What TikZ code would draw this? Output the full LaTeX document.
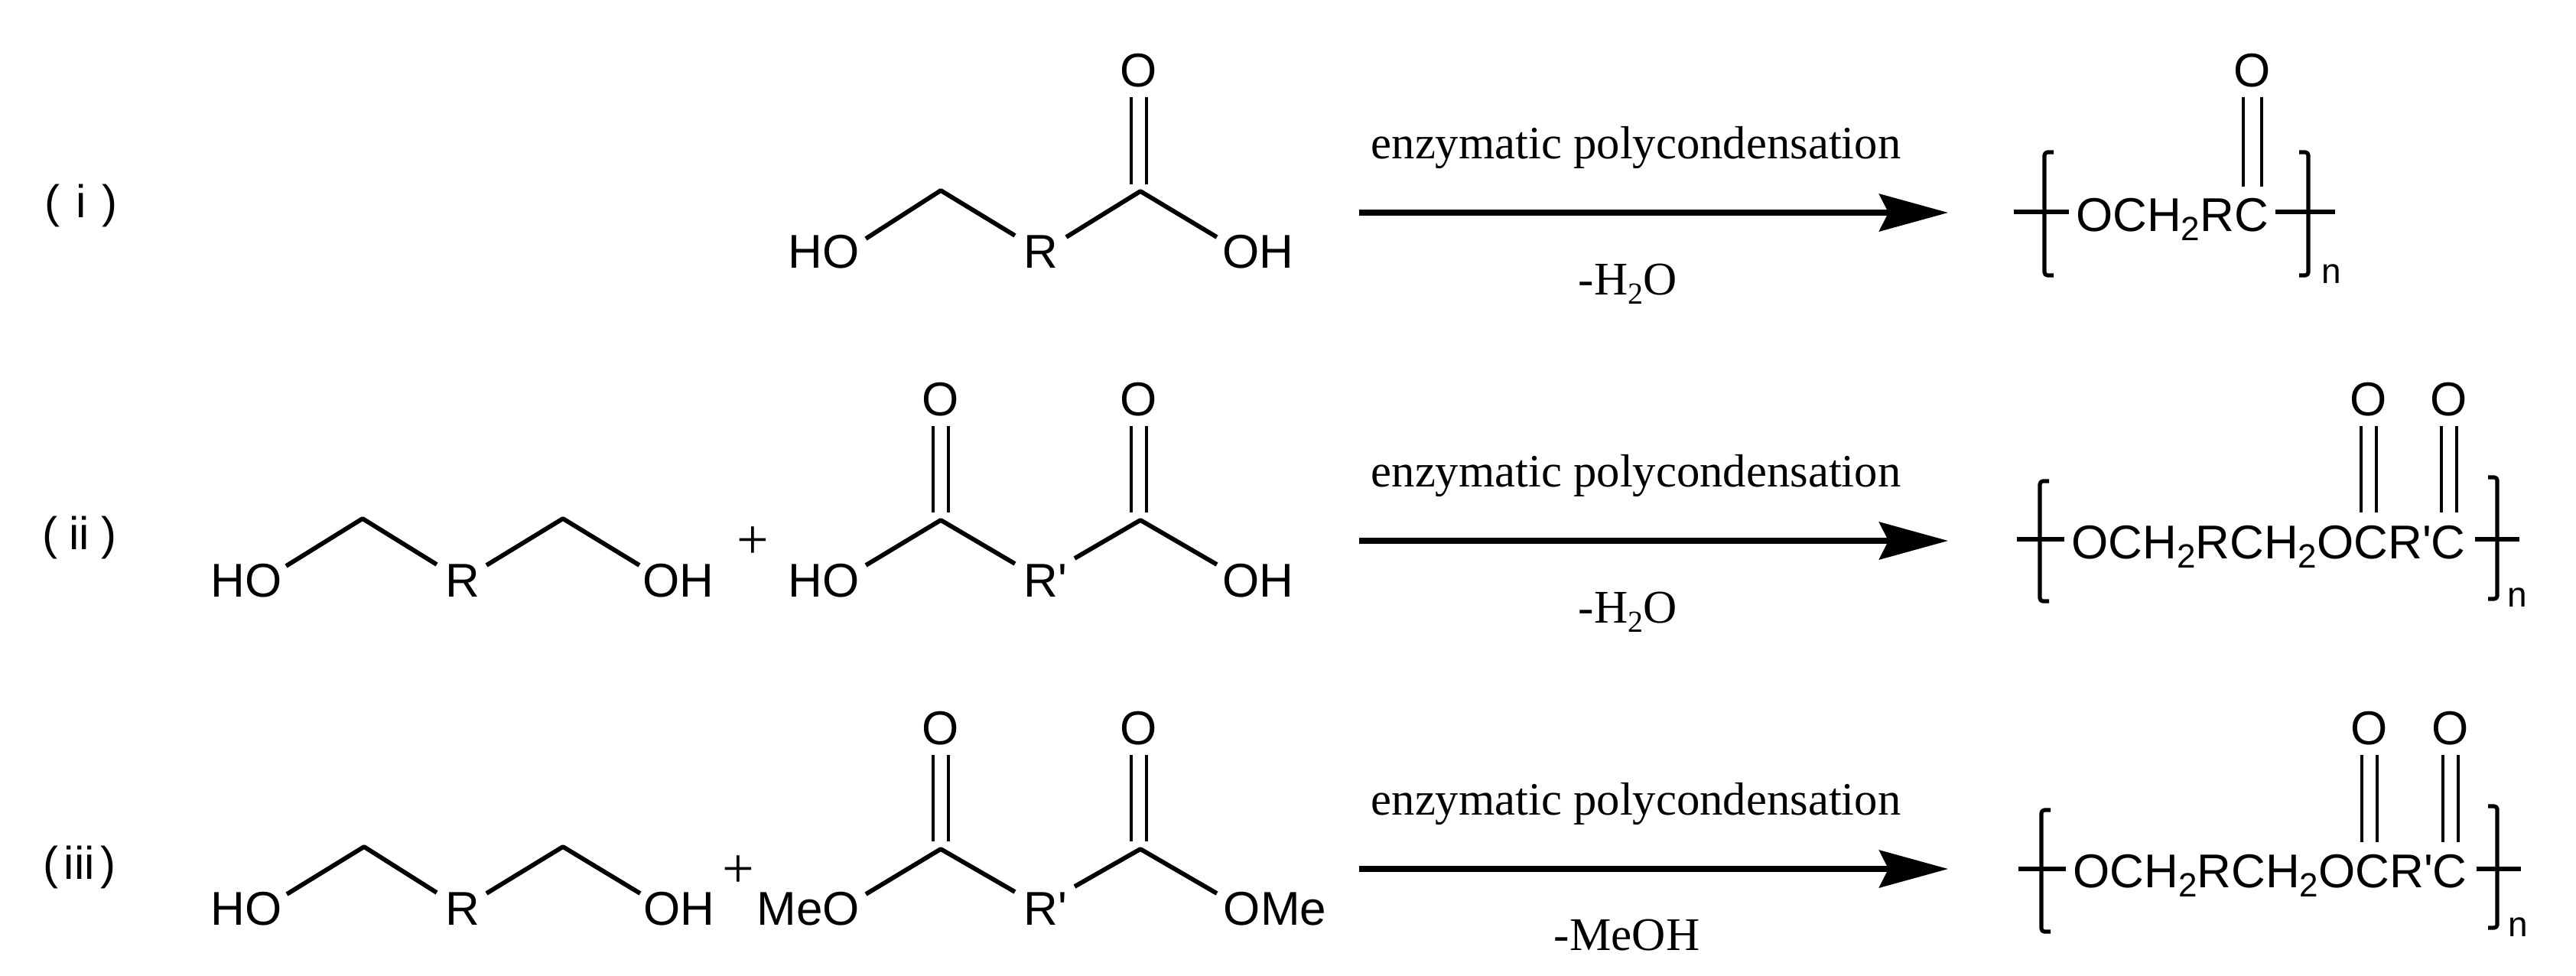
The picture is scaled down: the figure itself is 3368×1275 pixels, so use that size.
\documentclass[tikz,border=0pt]{standalone}
\usepackage{fontspec}
\setmainfont{Liberation Serif}
\setsansfont{Liberation Sans}
\usetikzlibrary{arrows.meta}
\newcommand{\subA}[1]{\raisebox{-3.2pt}{\fontsize{11}{12}\selectfont #1}}
\newcommand{\subB}[1]{\raisebox{-3.2pt}{\fontsize{10}{12}\selectfont #1}}
\tikzset{
  atom/.style={inner sep=0pt,anchor=center,font=\sffamily\fontsize{15.5}{18}\selectfont},
  chain/.style={inner sep=0pt,anchor=base,font=\sffamily\fontsize{15.5}{18}\selectfont},
  idx/.style={inner sep=0pt,anchor=base,font=\sffamily\fontsize{11.5}{12}\selectfont},
  rowlabel/.style={inner sep=0pt,anchor=center,font=\sffamily\fontsize{15}{18}\selectfont},
  serif/.style={inner sep=0pt,anchor=base,font=\rmfamily\fontsize{15.17}{18}\selectfont},
  serifb/.style={inner sep=0pt,anchor=base,font=\rmfamily\fontsize{15.3}{18}\selectfont},
  plus/.style={inner sep=0pt,anchor=center,font=\rmfamily\fontsize{18.5}{20}\selectfont},
  bond/.style={line width=1.45pt,line cap=butt,line join=round},
  dbl/.style={line width=1.15pt,line cap=butt},
  xbond/.style={line width=1.6pt,line cap=butt},
  brk/.style={line width=1.3pt,line join=round,rounded corners=1pt},
  rxn/.style={line width=1.8pt,-{Stealth[length=22.5pt,width=12.2pt,inset=3pt]}},
}
\begin{document}
\begin{tikzpicture}[x=0.25pt,y=-0.25pt]
\useasboundingbox (0,0) rectangle (3368,1275);

%% ---------- row labels
\node[rowlabel] (l1) at (106,269) {(\kern1pt\ i\ \kern1pt)};
\node[rowlabel] (l2) at (104,703) {(\kern3.8pt ii\kern3.8pt)};
\node[rowlabel] (l3) at (104,1134) {(\kern2pt iii\kern2pt)};

%% ---------- row i reactant
\node[atom] (a1) at (1077,329) {HO};
\node[atom] (r1) at (1361,329) {R};
\node[atom] (b1) at (1645,329) {OH};
\node[atom] (o1) at (1489,92) {O};
\coordinate (p1) at (1230,249);
\coordinate (c1) at (1491,250);
\draw[bond] ([shift={(55,-17)}]a1.center) -- (p1) -- ([shift={(-34,-21)}]r1.center);
\draw[bond] ([shift={(33,-19)}]r1.center) -- (c1) -- ([shift={(-54,-19)}]b1.center);
\draw[dbl] ([shift={(-10,35)}]o1.center) -- ([shift={(-12,-9)}]c1);
\draw[dbl] ([shift={(10,35)}]o1.center) -- ([shift={(8,-9)}]c1);

%% ---------- row ii reactants
\node[atom] (dA2) at (322,759) {HO};
\node[atom] (dR2) at (605,759) {R};
\node[atom] (dB2) at (887,759) {OH};
\coordinate (dP2) at (474,678);
\coordinate (dQ2) at (736,678);
\draw[bond] ([shift={(52,-19)}]dA2.center) -- (dP2) -- ([shift={(-34,-21)}]dR2.center);
\draw[bond] ([shift={(31,-20)}]dR2.center) -- (dQ2) -- ([shift={(-51,-20)}]dB2.center);
\node[plus] (pl2) at (984,710) {+};
\node[atom] (a2) at (1077,759) {HO};
\node[atom] (r2) at (1367,759) {R\textquotesingle};
\node[atom] (b2) at (1645,759) {OH};
\node[atom] (oL2) at (1230,522) {O};
\node[atom] (oR2) at (1489,522) {O};
\coordinate (cL2) at (1230,680);
\coordinate (cR2) at (1491,680);
\draw[bond] ([shift={(55,-20)}]a2.center) -- (cL2) -- ([shift={(-40,-22)}]r2.center);
\draw[bond] ([shift={(38,-29)}]r2.center) -- (cR2) -- ([shift={(-54,-21)}]b2.center);
\draw[dbl] ([shift={(-10,35)}]oL2.center) -- ([shift={(-10,-10)}]cL2);
\draw[dbl] ([shift={(10,35)}]oL2.center) -- ([shift={(10,-10)}]cL2);
\draw[dbl] ([shift={(-10,35)}]oR2.center) -- ([shift={(-12,-10)}]cR2);
\draw[dbl] ([shift={(10,35)}]oR2.center) -- ([shift={(8,-10)}]cR2);

%% ---------- row iii reactants
\node[atom] (dA3) at (322,1188) {HO};
\node[atom] (dR3) at (605,1188) {R};
\node[atom] (dB3) at (888,1188) {OH};
\coordinate (dP3) at (476,1107);
\coordinate (dQ3) at (736,1107);
\draw[bond] ([shift={(53,-19)}]dA3.center) -- (dP3) -- ([shift={(-34,-21)}]dR3.center);
\draw[bond] ([shift={(31,-20)}]dR3.center) -- (dQ3) -- ([shift={(-51,-20)}]dB3.center);
\node[plus] (pl3) at (965,1140) {+};
\node[atom] (a3) at (1057,1188) {MeO};
\node[atom] (r3) at (1367,1188) {R\textquotesingle};
\node[atom] (b3) at (1667,1188) {OMe};
\node[atom] (oL3) at (1230,952) {O};
\node[atom] (oR3) at (1489,952) {O};
\coordinate (cL3) at (1230,1110);
\coordinate (cR3) at (1491,1110);
\draw[bond] ([shift={(75,-19)}]a3.center) -- (cL3) -- ([shift={(-40,-22)}]r3.center);
\draw[bond] ([shift={(38,-29)}]r3.center) -- (cR3) -- ([shift={(-76,-20)}]b3.center);
\draw[dbl] ([shift={(-10,35)}]oL3.center) -- ([shift={(-10,-10)}]cL3);
\draw[dbl] ([shift={(10,35)}]oL3.center) -- ([shift={(10,-10)}]cL3);
\draw[dbl] ([shift={(-10,35)}]oR3.center) -- ([shift={(-12,-10)}]cR3);
\draw[dbl] ([shift={(10,35)}]oR3.center) -- ([shift={(8,-10)}]cR3);

%% ---------- arrows and their labels
\coordinate (s1) at (1777,278);
\coordinate (e1) at (2547,278);
\coordinate (s2) at (1777,707);
\coordinate (e2) at (2547,707);
\coordinate (s3) at (1777,1136);
\coordinate (e3) at (2547,1136);
\draw[rxn] (s1) -- (e1);
\draw[rxn] (s2) -- (e2);
\draw[rxn] (s3) -- (e3);
\node[serif] (t1) at (2139,207) {enzymatic polycondensation};
\node[serif] (t2) at (2139,636) {enzymatic polycondensation};
\node[serif] (t3) at (2139,1065) {enzymatic polycondensation};
\node[serifb] (u1) at (2128,385) {-H\subB{2}O};
\node[serifb] (u2) at (2128,814) {-H\subB{2}O};
\node[serifb] (u3) at (2127,1242) {-MeOH};

%% ---------- product i
\node[chain] (pc1) at (2840,302) {OCH\subA{2}RC};
\node[atom] (po1) at (2945,92) {O};
\node[idx] (n1) at (3048,370) {n};
\draw[dbl] ([shift={(-12,35)}]po1.center) -- ([shift={(93,-58)}]pc1.base);
\draw[dbl] ([shift={(12,35)}]po1.center) -- ([shift={(117,-58)}]pc1.base);
\coordinate (xa1) at (2633,277);
\coordinate (xb1) at (3053,277);
\draw[xbond] (xa1) -- ([shift={(-135,-25)}]pc1.base);
\draw[xbond] ([shift={(135,-25)}]pc1.base) -- (xb1);
\coordinate (la1) at (2685,199);
\coordinate (lb1) at (2685,360);
\coordinate (ra1) at (3006,199);
\coordinate (rb1) at (3006,360);
\draw[brk] (la1) -- ++(-12,0) -- ++(0,161) -- (lb1);
\draw[brk] (ra1) -- ++(12,0) -- ++(0,161) -- (rb1);

%% ---------- product ii
\node[chain] (pc2) at (2966,730) {OCH\subA{2}RCH\subA{2}OCR\textquotesingle C};
\node[atom] (poL2) at (3097,522) {O};
\node[atom] (poR2) at (3202,522) {O};
\node[idx] (n2) at (3291,793) {n};
\draw[dbl] ([shift={(-10,35)}]poL2.center) -- ([shift={(121,-60)}]pc2.base);
\draw[dbl] ([shift={(10,35)}]poL2.center) -- ([shift={(141,-60)}]pc2.base);
\draw[dbl] ([shift={(-10,35)}]poR2.center) -- ([shift={(226,-60)}]pc2.base);
\draw[dbl] ([shift={(10,35)}]poR2.center) -- ([shift={(246,-60)}]pc2.base);
\coordinate (xa2) at (2637,705);
\coordinate (xb2) at (3294,705);
\draw[xbond] (xa2) -- ([shift={(-267,-25)}]pc2.base);
\draw[xbond] ([shift={(270,-25)}]pc2.base) -- (xb2);
\coordinate (la2) at (2679,629);
\coordinate (lb2) at (2679,786);
\coordinate (ra2) at (3253,624);
\coordinate (rb2) at (3253,783);
\draw[brk] (la2) -- ++(-12,0) -- ++(0,157) -- (lb2);
\draw[brk] (ra2) -- ++(12,0) -- ++(0,159) -- (rb2);

%% ---------- product iii
\node[chain] (pc3) at (2968,1160) {OCH\subA{2}RCH\subA{2}OCR\textquotesingle C};
\node[atom] (poL3) at (3098,952) {O};
\node[atom] (poR3) at (3204,952) {O};
\node[idx] (n3) at (3292,1224) {n};
\draw[dbl] ([shift={(-10,35)}]poL3.center) -- ([shift={(120,-59)}]pc3.base);
\draw[dbl] ([shift={(10,35)}]poL3.center) -- ([shift={(140,-59)}]pc3.base);
\draw[dbl] ([shift={(-10,35)}]poR3.center) -- ([shift={(226,-59)}]pc3.base);
\draw[dbl] ([shift={(10,35)}]poR3.center) -- ([shift={(246,-59)}]pc3.base);
\coordinate (xa3) at (2639,1136);
\coordinate (xb3) at (3296,1136);
\draw[xbond] (xa3) -- ([shift={(-267,-24)}]pc3.base);
\draw[xbond] ([shift={(270,-24)}]pc3.base) -- (xb3);
\coordinate (la3) at (2681,1059);
\coordinate (lb3) at (2681,1218);
\coordinate (ra3) at (3253,1054);
\coordinate (rb3) at (3253,1213);
\draw[brk] (la3) -- ++(-12,0) -- ++(0,159) -- (lb3);
\draw[brk] (ra3) -- ++(12,0) -- ++(0,159) -- (rb3);
\end{tikzpicture}
\end{document}
